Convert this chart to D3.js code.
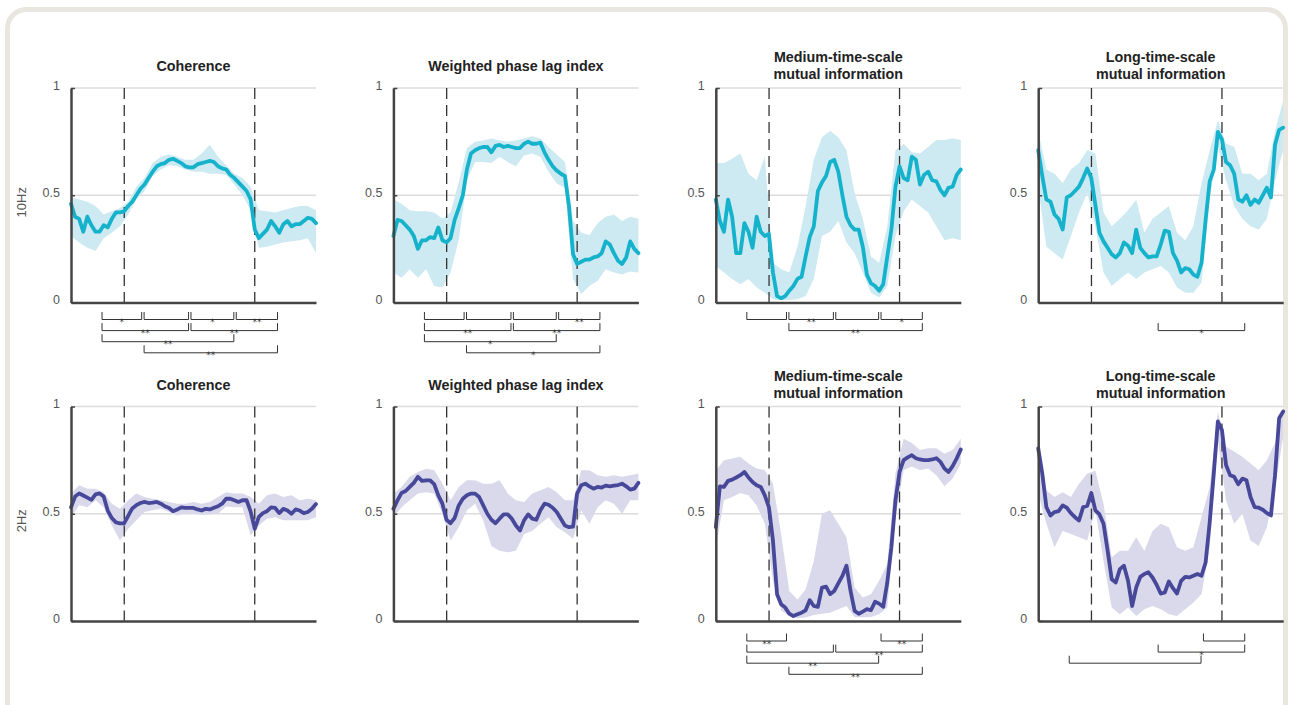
<!DOCTYPE html>
<html>
<head>
<meta charset="utf-8">
<script src="https://cdn.jsdelivr.net/npm/d3@7"></script>
<style>
  body { margin: 0; background: #fff; }
  svg { display: block; font-family: "Liberation Sans", Arial, Helvetica, sans-serif; }
</style>
</head>
<body>
<svg id="chart" width="1294" height="705"></svg>
<script>
// time axis (s), stimulus events and epoch centres used by the comparison brackets
const T_RANGE = [-1, 3.6];
const EVENTS = [0, 2.45];
const EPOCHS = [-0.44, 0.35, 1.23, 2.08, 2.9];
const Y_TICKS = [0, 0.5, 1];
const ROW_LABELS = ["10Hz", "2Hz"];

// ---- 10 Hz ----
const coh10Mean = [0.46,0.40,0.39,0.33,0.40,0.36,0.33,0.33,0.36,0.35,
  0.39,0.42,0.42,0.425,0.45,0.47,0.50,0.53,0.55,0.58,
  0.61,0.635,0.645,0.65,0.665,0.67,0.66,0.65,0.635,0.63,
  0.63,0.645,0.65,0.655,0.66,0.655,0.635,0.625,0.62,0.595,
  0.58,0.56,0.54,0.52,0.48,0.34,0.30,0.32,0.34,0.38,
  0.355,0.325,0.365,0.38,0.355,0.365,0.365,0.38,0.395,0.39,0.37];
const coh10Lo = [0.31,0.28,0.255,0.24,0.30,0.325,0.355,0.41,0.48,0.52,0.59,0.62,0.64,0.635,0.62,0.61,
  0.61,0.60,0.60,0.595,0.55,0.50,0.43,0.255,0.26,0.27,0.28,0.285,0.29,0.30,0.23];
const coh10Hi = [0.49,0.48,0.47,0.45,0.41,0.425,0.44,0.47,0.54,0.58,0.65,0.68,0.69,0.68,0.665,0.665,
  0.695,0.735,0.68,0.64,0.60,0.58,0.54,0.43,0.425,0.42,0.43,0.44,0.45,0.45,0.43];

const wpli10Mean = [0.31,0.385,0.38,0.36,0.34,0.31,0.25,0.29,0.29,0.305,
  0.30,0.35,0.29,0.28,0.30,0.385,0.44,0.50,0.62,0.695,
  0.71,0.72,0.725,0.725,0.70,0.73,0.735,0.725,0.73,0.725,
  0.72,0.72,0.74,0.75,0.74,0.74,0.745,0.70,0.665,0.635,
  0.615,0.60,0.59,0.45,0.225,0.18,0.19,0.20,0.20,0.21,
  0.215,0.23,0.285,0.27,0.23,0.195,0.18,0.21,0.285,0.25,0.23];
const wpli10Lo = [0.14,0.115,0.155,0.115,0.155,0.077,0.07,0.14,0.29,0.57,0.655,0.655,0.65,0.68,0.655,0.635,
  0.685,0.695,0.68,0.61,0.555,0.535,0.11,0.04,0.077,0.10,0.155,0.14,0.13,0.145,0.14];
const wpli10Hi = [0.48,0.46,0.43,0.425,0.425,0.42,0.39,0.42,0.56,0.72,0.75,0.755,0.765,0.755,0.75,0.755,
  0.765,0.775,0.765,0.725,0.69,0.655,0.38,0.325,0.315,0.37,0.40,0.41,0.38,0.40,0.39];

const mi10Mean = [0.48,0.38,0.33,0.48,0.40,0.23,0.23,0.37,0.33,0.255,
  0.40,0.33,0.31,0.32,0.14,0.03,0.02,0.03,0.055,0.077,
  0.11,0.12,0.215,0.305,0.355,0.52,0.56,0.59,0.655,0.665,
  0.61,0.50,0.40,0.36,0.34,0.34,0.26,0.13,0.09,0.077,
  0.055,0.085,0.215,0.34,0.54,0.635,0.58,0.57,0.68,0.665,
  0.55,0.595,0.61,0.57,0.565,0.525,0.50,0.535,0.54,0.595,0.62];
const mi10Lo = [0.17,0.14,0.11,0.085,0.11,0.07,0.046,0.015,0.012,0.012,0.015,0.03,0.11,0.31,0.33,0.38,
  0.28,0.23,0.14,0.046,0.023,0.077,0.31,0.425,0.48,0.45,0.42,0.355,0.29,0.30,0.29];
const mi10Hi = [0.65,0.65,0.67,0.695,0.60,0.57,0.68,0.185,0.155,0.14,0.26,0.45,0.665,0.77,0.80,0.77,
  0.71,0.51,0.39,0.215,0.185,0.355,0.71,0.74,0.70,0.695,0.725,0.757,0.757,0.765,0.757];

const lmi10Mean = [0.71,0.59,0.48,0.47,0.41,0.39,0.34,0.49,0.50,0.52,
  0.54,0.58,0.625,0.58,0.455,0.325,0.285,0.255,0.225,0.21,
  0.23,0.28,0.265,0.23,0.34,0.255,0.23,0.21,0.215,0.215,
  0.27,0.335,0.33,0.23,0.195,0.14,0.16,0.155,0.13,0.12,
  0.185,0.385,0.565,0.62,0.795,0.76,0.655,0.64,0.60,0.48,
  0.47,0.50,0.455,0.48,0.465,0.50,0.535,0.49,0.735,0.805,0.815];
const lmi10Lo = [0.54,0.26,0.23,0.20,0.31,0.42,0.51,0.355,0.14,0.077,0.11,0.14,0.11,0.14,0.155,0.17,
  0.14,0.07,0.046,0.046,0.093,0.48,0.726,0.57,0.45,0.39,0.355,0.34,0.39,0.57,0.71];
const lmi10Hi = [0.80,0.62,0.60,0.556,0.62,0.65,0.71,0.695,0.42,0.355,0.39,0.43,0.48,0.325,0.39,0.42,
  0.45,0.325,0.29,0.355,0.556,0.71,0.85,0.74,0.726,0.60,0.60,0.57,0.60,0.80,0.94];

// ---- 2 Hz ----
const coh2Mean = [0.53,0.58,0.595,0.585,0.575,0.565,0.59,0.595,0.58,0.515,
  0.48,0.46,0.455,0.455,0.49,0.525,0.54,0.55,0.555,0.55,
  0.552,0.555,0.547,0.535,0.527,0.512,0.52,0.53,0.527,0.527,
  0.527,0.52,0.515,0.523,0.52,0.528,0.535,0.547,0.57,0.57,
  0.563,0.555,0.563,0.563,0.51,0.43,0.485,0.503,0.512,0.53,
  0.527,0.503,0.523,0.515,0.50,0.52,0.515,0.503,0.508,0.523,0.545];
const coh2Lo = [0.484,0.54,0.53,0.5625,0.53,0.445,0.375,0.43,0.47,0.508,0.516,0.523,0.508,0.492,0.503,0.50,
  0.495,0.497,0.50,0.534,0.53,0.53,0.40,0.445,0.477,0.484,0.47,0.47,0.47,0.47,0.484];
const coh2Hi = [0.594,0.633,0.617,0.617,0.60,0.547,0.523,0.5625,0.594,0.578,0.57,0.5625,0.555,0.547,0.547,0.555,
  0.547,0.555,0.578,0.60,0.594,0.594,0.578,0.547,0.586,0.594,0.578,0.586,0.5625,0.57,0.5625];

const wpli2Mean = [0.523,0.5625,0.597,0.606,0.625,0.644,0.672,0.653,0.656,0.656,
  0.6375,0.586,0.547,0.472,0.456,0.48,0.539,0.57,0.586,0.594,
  0.594,0.578,0.539,0.50,0.472,0.456,0.477,0.497,0.497,0.477,
  0.445,0.422,0.469,0.497,0.477,0.472,0.516,0.547,0.542,0.528,
  0.508,0.477,0.445,0.4375,0.44,0.594,0.633,0.64,0.628,0.617,
  0.625,0.622,0.631,0.628,0.631,0.634,0.64,0.628,0.6125,0.617,0.644];
const wpli2Lo = [0.484,0.53,0.5625,0.594,0.60,0.594,0.50,0.375,0.4375,0.516,0.547,0.469,0.35,0.328,0.32,0.328,
  0.406,0.42,0.453,0.484,0.4375,0.414,0.383,0.516,0.453,0.53,0.5625,0.547,0.50,0.5625,0.5625];
const wpli2Hi = [0.594,0.625,0.672,0.695,0.71,0.703,0.64,0.5625,0.625,0.656,0.656,0.64,0.64,0.656,0.594,0.5625,
  0.555,0.594,0.61,0.625,0.60,0.5625,0.5625,0.703,0.703,0.68,0.672,0.68,0.672,0.68,0.6875];

const mi2Mean = [0.4375,0.628,0.625,0.653,0.659,0.669,0.68,0.695,0.669,0.648,
  0.633,0.625,0.586,0.531,0.375,0.125,0.078,0.0625,0.034,0.023,
  0.031,0.039,0.05,0.097,0.07,0.066,0.156,0.16,0.125,0.14,
  0.175,0.21,0.258,0.14,0.047,0.034,0.044,0.055,0.05,0.09,
  0.081,0.066,0.18,0.344,0.5625,0.695,0.75,0.7625,0.773,0.759,
  0.753,0.75,0.75,0.753,0.759,0.742,0.711,0.695,0.722,0.758,0.80];
const mi2Lo = [0.344,0.5625,0.578,0.597,0.586,0.539,0.453,0.1875,0.05,0.022,0.0125,0.016,0.028,0.034,0.039,0.055,
  0.07,0.019,0.016,0.019,0.031,0.0625,0.484,0.703,0.72,0.703,0.711,0.68,0.628,0.664,0.734];
const mi2Hi = [0.70,0.75,0.758,0.766,0.734,0.711,0.703,0.64,0.406,0.14,0.10,0.148,0.28,0.50,0.516,0.453,
  0.39,0.156,0.11,0.125,0.1875,0.266,0.6875,0.85,0.83,0.797,0.805,0.805,0.78,0.797,0.85];

const lmi2Mean = [0.805,0.6875,0.531,0.492,0.508,0.5125,0.539,0.528,0.503,0.484,
  0.469,0.531,0.536,0.597,0.516,0.497,0.453,0.328,0.195,0.18,
  0.242,0.258,0.1875,0.07,0.156,0.206,0.219,0.227,0.203,0.169,
  0.128,0.133,0.184,0.153,0.128,0.1875,0.206,0.203,0.211,0.219,
  0.211,0.273,0.461,0.6875,0.93,0.89,0.727,0.68,0.672,0.6375,
  0.664,0.656,0.578,0.531,0.528,0.519,0.503,0.492,0.68,0.945,0.977];
const lmi2Lo = [0.594,0.453,0.344,0.42,0.406,0.39,0.375,0.516,0.28,0.0625,0.031,0.0625,0.023,0.055,0.07,0.055,
  0.031,0.023,0.055,0.086,0.125,0.344,0.844,0.5625,0.453,0.50,0.375,0.35,0.4375,0.625,0.86];
const lmi2Hi = [0.844,0.61,0.578,0.60,0.578,0.64,0.6875,0.70,0.547,0.297,0.328,0.328,0.39,0.328,0.42,0.453,
  0.4375,0.344,0.328,0.344,0.484,0.625,0.977,0.8125,0.79,0.766,0.734,0.703,0.75,0.83,0.985];

// brackets: [from epoch, to epoch, row, significance]
const coh10Brackets = [[0,1,0,"*"],[1,2,0,""],[2,3,0,"*"],[3,4,0,"**"],[0,2,1,"**"],[2,4,1,"**"],[0,3,2,"**"],[1,4,3,"**"]];
const wpli10Brackets = [[0,1,0,""],[1,2,0,""],[2,3,0,""],[3,4,0,"**"],[0,2,1,"**"],[2,4,1,"**"],[0,3,2,"*"],[1,4,3,"*"]];
const mi10Brackets = [[0,1,0,""],[1,2,0,"**"],[2,3,0,""],[3,4,0,"*"],[1,4,1,"**"]];
const lmi10Brackets = [[2,4,1,"*"]];
const coh2Brackets = [];
const wpli2Brackets = [];
const mi2Brackets = [[0,1,0,"**"],[3,4,0,"**"],[0,2,1,""],[2,4,1,"**"],[0,3,2,"**"],[1,4,3,"**"]];
const lmi2Brackets = [[3,4,0,""],[2,4,1,"*"],[0,3,2,""]];

const TITLES = [["Coherence"], ["Weighted phase lag index"],
  ["Medium-time-scale", "mutual information"], ["Long-time-scale", "mutual information"]];

const COLORS = [{line: "#15b2cb", band: "#cde9f2"}, {line: "#474899", band: "#d9d9eb"}];

const panels = [
  [coh10Mean, coh10Lo, coh10Hi, coh10Brackets], [wpli10Mean, wpli10Lo, wpli10Hi, wpli10Brackets],
  [mi10Mean, mi10Lo, mi10Hi, mi10Brackets], [lmi10Mean, lmi10Lo, lmi10Hi, lmi10Brackets],
  [coh2Mean, coh2Lo, coh2Hi, coh2Brackets], [wpli2Mean, wpli2Lo, wpli2Hi, wpli2Brackets],
  [mi2Mean, mi2Lo, mi2Hi, mi2Brackets], [lmi2Mean, lmi2Lo, lmi2Hi, lmi2Brackets]
].map((p, k) => ({mean: p[0], lo: p[1], hi: p[2], brackets: p[3], row: Math.floor(k / 4), col: k % 4}));

// layout
const W = 245, H = 214.5;
const LEFT0 = 71, COL_STEP = 322.4;
const ROW_TOP = [88, 406.5];
const BRACKET_OFF = [17, 20];   // first bracket row below x axis
const BRACKET_STEP = 11.1;

const svg = d3.select("#chart");

// rounded frame
svg.append("rect")
  .attr("x", 7.5).attr("y", 9.5)
  .attr("width", 1278).attr("height", 740)
  .attr("rx", 19)
  .attr("fill", "#fff")
  .attr("stroke", "#e9e6df")
  .attr("stroke-width", 5);

// row labels
ROW_LABELS.forEach((lab, r) => {
  svg.append("text")
    .attr("transform", `translate(21,${ROW_TOP[r] + H / 2 + 7}) rotate(-90)`)
    .attr("text-anchor", "middle")
    .attr("dy", "0.35em")
    .attr("font-size", 13)
    .attr("fill", "#555")
    .text(lab);
});

const tOf = (i, n) => T_RANGE[0] + i * (T_RANGE[1] - T_RANGE[0]) / (n - 1);

panels.forEach(p => {
  const left = LEFT0 + p.col * COL_STEP;
  const top = ROW_TOP[p.row];
  const col = COLORS[p.row];
  const g = svg.append("g").attr("transform", `translate(${left},${top})`);

  const x = d3.scaleLinear().domain(T_RANGE).range([0, W]);
  const y = d3.scaleLinear().domain([0, 1]).range([H, 0]);

  // title
  const lines = TITLES[p.col];
  const base = lines.length === 1 ? [-17] : [-26, -9];
  lines.forEach((t, k) => {
    g.append("text")
      .attr("x", W / 2).attr("y", base[k])
      .attr("text-anchor", "middle")
      .attr("font-size", 14.3)
      .attr("font-weight", "bold")
      .attr("fill", "#222")
      .text(t);
  });

  // grid
  g.selectAll("line.grid").data([0.5, 1]).enter().append("line")
    .attr("class", "grid")
    .attr("x1", 0).attr("x2", W)
    .attr("y1", d => y(d)).attr("y2", d => y(d))
    .attr("stroke", "#dcdcdc").attr("stroke-width", 1.5);

  // band
  const nb = p.lo.length;
  const band = d3.area()
    .x((d, i) => x(tOf(i, nb)))
    .y0(d => y(d[0]))
    .y1(d => y(d[1]));
  g.append("path")
    .datum(p.lo.map((v, i) => [v, p.hi[i]]))
    .attr("d", band)
    .attr("fill", col.band);

  // event markers
  g.selectAll("line.ev").data(EVENTS).enter().append("line")
    .attr("class", "ev")
    .attr("x1", d => x(d)).attr("x2", d => x(d))
    .attr("y1", 0).attr("y2", H)
    .attr("stroke", "#333").attr("stroke-width", 1.3)
    .attr("stroke-dasharray", "11,6");

  // mean line
  const nm = p.mean.length;
  const line = d3.line()
    .x((d, i) => x(tOf(i, nm)))
    .y(d => y(d));
  g.append("path")
    .datum(p.mean)
    .attr("d", line)
    .attr("fill", "none")
    .attr("stroke", col.line)
    .attr("stroke-width", 3.8)
    .attr("stroke-linejoin", "round")
    .attr("stroke-linecap", "round");

  // axes
  const yAxis = g.append("g")
    .call(d3.axisLeft(y).tickValues(Y_TICKS)
      .tickFormat(d => d === 0.5 ? "0.5" : d3.format("d")(d))
      .tickSizeInner(-4).tickSizeOuter(0).tickPadding(11));
  yAxis.select(".domain").attr("stroke", "#444").attr("stroke-width", 2.5);
  yAxis.selectAll(".tick line").attr("stroke", "#444").attr("stroke-width", 1.5);
  yAxis.selectAll(".tick text")
    .attr("dy", "0.1em")
    .attr("font-size", 12.5)
    .attr("font-family", "Liberation Sans, Arial, sans-serif")
    .attr("fill", "#555");

  const xAxis = g.append("g")
    .attr("transform", `translate(0,${H})`)
    .call(d3.axisBottom(x).tickValues([]).tickSizeOuter(0));
  xAxis.select(".domain").attr("stroke", "#444").attr("stroke-width", 2.5);

  // significance brackets
  p.brackets.forEach(([a, b, r, lab]) => {
    const x1 = x(EPOCHS[a]) + 1.2, x2 = x(EPOCHS[b]) - 1.2;
    const ry = H + BRACKET_OFF[p.row] + r * BRACKET_STEP;
    g.append("path")
      .attr("d", `M${x1},${ry - 7.5}V${ry}H${x2}V${ry - 7.5}`)
      .attr("fill", "none")
      .attr("stroke", "#333")
      .attr("stroke-width", 1);
    if (lab) {
      g.append("text")
        .attr("x", (x1 + x2) / 2).attr("y", ry + 5.5)
        .attr("text-anchor", "middle")
        .attr("font-family", "DejaVu Sans, sans-serif")
        .attr("font-size", 9)
        .attr("fill", "#333")
        .style("text-rendering", "geometricPrecision")
        .text(lab);
    }
  });
});
</script>
</body>
</html>
